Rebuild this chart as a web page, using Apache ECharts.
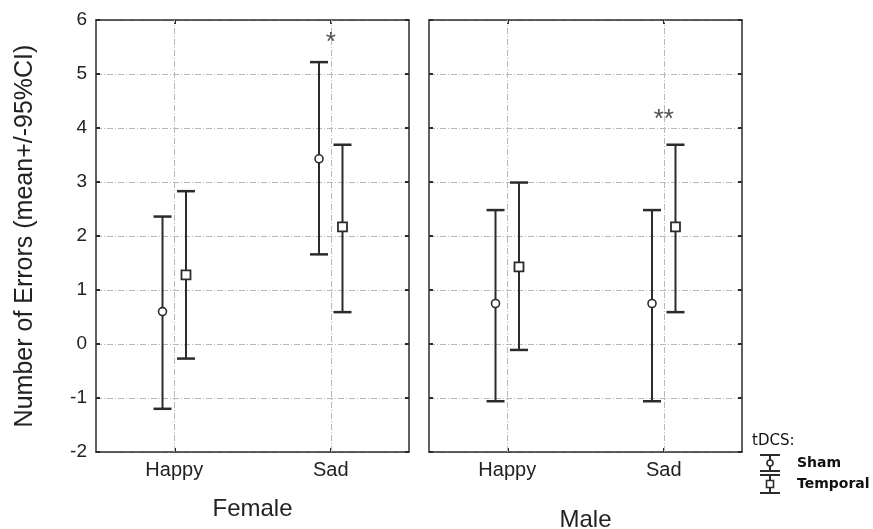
<!DOCTYPE html>
<html>
<head>
<meta charset="utf-8">
<script src="https://cdn.jsdelivr.net/npm/echarts@6/dist/echarts.min.js"></script>
<style>html,body{margin:0;padding:0;background:#fff}#c{width:873px;height:529px}</style>
</head>
<body>
<div id="c"></div>
<script>
// ---- data ----
const emotions = ['Happy', 'Sad'];
const panels = ['Female', 'Male'];
const yTicks = [-2, -1, 0, 1, 2, 3, 4, 5, 6];

const femaleShamMean = [0.6, 3.43];
const femaleShamLow  = [-1.2, 1.66];
const femaleShamHigh = [2.36, 5.22];
const femaleTempMean = [1.28, 2.17];
const femaleTempLow  = [-0.27, 0.59];
const femaleTempHigh = [2.83, 3.69];

const maleShamMean = [0.75, 0.75];
const maleShamLow  = [-1.06, -1.06];
const maleShamHigh = [2.48, 2.48];
const maleTempMean = [1.43, 2.17];
const maleTempLow  = [-0.11, 0.59];
const maleTempHigh = [2.99, 3.69];

const femaleMarks = ['', '*'];
const femaleMarkY = [null, 5.58];
const maleMarks = ['', '**'];
const maleMarkY = [null, 4.15];

const groups = ['Sham', 'Temporal'];

// ---- build ----
const FONT = 'Liberation Sans';
const INK = '#2b2b2b';
const GRIDC = '#b8b8b8';
const DASHDOT = [6, 2, 1, 2];
const DODGE = 0.15;
const catX = i => 2 * i + 1;

const chart = echarts.init(document.getElementById('c'), null, {renderer: 'canvas'});

const gridDefs = [
  {left: 96, top: 20, width: 313, height: 432},
  {left: 429, top: 20, width: 313, height: 432}
];

const xAxes = [], yAxes = [], series = [];
const panelData = [
  {sm: femaleShamMean, sl: femaleShamLow, sh: femaleShamHigh, tm: femaleTempMean, tl: femaleTempLow, th: femaleTempHigh, marks: femaleMarks, markY: femaleMarkY, nameGap: 45},
  {sm: maleShamMean, sl: maleShamLow, sh: maleShamHigh, tm: maleTempMean, tl: maleTempLow, th: maleTempHigh, marks: maleMarks, markY: maleMarkY, nameGap: 56}
];

panelData.forEach((pd, g) => {
  const xi = xAxes.length;
  xAxes.push({
    type: 'value', gridIndex: g, min: 0, max: 4, interval: 1,
    position: 'bottom',
    name: panels[g], nameLocation: 'middle', nameGap: pd.nameGap,
    nameTextStyle: {fontFamily: FONT, fontSize: 24, color: '#222'},
    axisLine: {show: true, onZero: false, lineStyle: {color: INK, width: 1.5}},
    axisTick: {show: true, inside: true, length: 4, customValues: [1, 3], lineStyle: {color: INK, width: 2}},
    axisLabel: {show: true, customValues: [1, 3], margin: 8, fontFamily: FONT, fontSize: 20, color: '#222',
      formatter: v => (v === 1 ? emotions[0] : v === 3 ? emotions[1] : '')},
    splitLine: {show: false}
  });
  xAxes.push({
    type: 'value', gridIndex: g, min: 0, max: 4, interval: 1, position: 'top',
    axisLine: {show: true, onZero: false, lineStyle: {color: INK, width: 1.5}},
    axisTick: {show: true, inside: true, length: 4, customValues: [1, 3], lineStyle: {color: INK, width: 2}},
    axisLabel: {show: false}, splitLine: {show: false}
  });
  const yi = yAxes.length;
  yAxes.push({
    type: 'value', gridIndex: g, min: yTicks[0], max: yTicks[yTicks.length - 1], interval: 1,
    position: 'left',
    name: g === 0 ? 'Number of Errors (mean+/-95%CI)' : '',
    nameLocation: 'middle', nameGap: 58,
    nameTextStyle: {fontFamily: FONT, fontSize: 25, color: '#222'},
    axisLine: {show: true, onZero: false, lineStyle: {color: INK, width: 1.5}},
    axisTick: {show: true, inside: true, length: 4, lineStyle: {color: INK, width: 2}},
    axisLabel: {show: g === 0, margin: 9, fontFamily: FONT, fontSize: 19, color: '#222'},
    splitLine: {show: true, lineStyle: {color: GRIDC, width: 1, type: DASHDOT}}
  });
  yAxes.push({
    type: 'value', gridIndex: g, min: yTicks[0], max: yTicks[yTicks.length - 1], interval: 1,
    position: 'right',
    axisLine: {show: true, onZero: false, lineStyle: {color: INK, width: 1.5}},
    axisTick: {show: true, inside: true, length: 4, lineStyle: {color: INK, width: 2}},
    axisLabel: {show: false}, splitLine: {show: false}
  });

  const errData = [];
  emotions.forEach((e, i) => {
    errData.push([catX(i) - DODGE, pd.sl[i], pd.sh[i]]);
    errData.push([catX(i) + DODGE, pd.tl[i], pd.th[i]]);
  });

  series.push({
    type: 'custom', xAxisIndex: xi, yAxisIndex: yi, silent: true, z: 3,
    data: errData,
    encode: {x: 0, y: [1, 2]},
    renderItem: (params, api) => {
      const x = api.value(0);
      const top = api.coord([x, api.value(2)]);
      const bot = api.coord([x, api.value(1)]);
      const cw = 9;
      const st = {stroke: INK, lineWidth: 2};
      return {type: 'group', children: [
        {type: 'line', shape: {x1: top[0], y1: top[1], x2: bot[0], y2: bot[1]}, style: st},
        {type: 'line', shape: {x1: top[0] - cw, y1: top[1], x2: top[0] + cw, y2: top[1]}, style: {stroke: INK, lineWidth: 2.5}},
        {type: 'line', shape: {x1: bot[0] - cw, y1: bot[1], x2: bot[0] + cw, y2: bot[1]}, style: {stroke: INK, lineWidth: 2.5}}
      ]};
    },
    markLine: {
      silent: true, symbol: 'none', label: {show: false},
      lineStyle: {color: GRIDC, width: 1, type: DASHDOT},
      data: emotions.map((e, i) => ({xAxis: catX(i)}))
    }
  });

  series.push({
    type: 'scatter', name: groups[0], xAxisIndex: xi, yAxisIndex: yi, silent: true, z: 5,
    symbol: 'circle', symbolSize: 8,
    itemStyle: {color: '#fff', borderColor: INK, borderWidth: 1.6, opacity: 1},
    data: emotions.map((e, i) => [catX(i) - DODGE, pd.sm[i]])
  });
  series.push({
    type: 'scatter', name: groups[1], xAxisIndex: xi, yAxisIndex: yi, silent: true, z: 5,
    symbol: 'rect', symbolSize: 9,
    itemStyle: {color: '#fff', borderColor: INK, borderWidth: 1.8, opacity: 1},
    data: emotions.map((e, i) => [catX(i) + DODGE, pd.tm[i]])
  });
  series.push({
    type: 'scatter', xAxisIndex: xi, yAxisIndex: yi, silent: true, z: 6,
    symbolSize: 0,
    data: emotions.map((e, i) => pd.marks[i] ? {value: [catX(i), pd.markY[i]], mark: pd.marks[i]} : null).filter(Boolean),
    label: {show: true, position: 'inside', fontFamily: FONT, fontSize: 26, color: '#222',
      formatter: p => p.data.mark}
  });
});

// legend drawn as graphic (symbols + real text)
const LX = 770;
const legend = [
  {type: 'text', left: 752, top: 434, style: {text: 'tDCS:', fontFamily: 'DejaVu Sans', fontSize: 15, fill: '#111'}},
  // Sham
  {type: 'line', shape: {x1: LX, y1: 455, x2: LX, y2: 471}, style: {stroke: INK, lineWidth: 2}},
  {type: 'line', shape: {x1: LX - 10, y1: 455, x2: LX + 10, y2: 455}, style: {stroke: INK, lineWidth: 2}},
  {type: 'line', shape: {x1: LX - 10, y1: 471, x2: LX + 10, y2: 471}, style: {stroke: INK, lineWidth: 2}},
  {type: 'circle', shape: {cx: LX, cy: 463, r: 3}, style: {fill: '#fff', stroke: INK, lineWidth: 1.6}, z: 10},
  {type: 'text', x: 797, y: 463, style: {text: groups[0], fontFamily: 'DejaVu Sans', fontWeight: 'bold', fontSize: 14, fill: '#111', verticalAlign: 'middle'}},
  // Temporal
  {type: 'line', shape: {x1: LX, y1: 475, x2: LX, y2: 493}, style: {stroke: INK, lineWidth: 2}},
  {type: 'line', shape: {x1: LX - 10, y1: 475, x2: LX + 10, y2: 475}, style: {stroke: INK, lineWidth: 2}},
  {type: 'line', shape: {x1: LX - 10, y1: 493, x2: LX + 10, y2: 493}, style: {stroke: INK, lineWidth: 2}},
  {type: 'rect', shape: {x: LX - 3.5, y: 480.5, width: 7, height: 7}, style: {fill: '#fff', stroke: INK, lineWidth: 1.6}, z: 10},
  {type: 'text', x: 797, y: 484, style: {text: groups[1], fontFamily: 'DejaVu Sans', fontWeight: 'bold', fontSize: 14, fill: '#111', verticalAlign: 'middle'}}
];

chart.setOption({
  animation: false,
  backgroundColor: '#fff',
  grid: gridDefs.map(d => Object.assign({show: false, containLabel: false, outerBoundsMode: 'none'}, d)),
  xAxis: xAxes,
  yAxis: yAxes,
  series: series,
  graphic: legend
});
</script>
</body>
</html>
